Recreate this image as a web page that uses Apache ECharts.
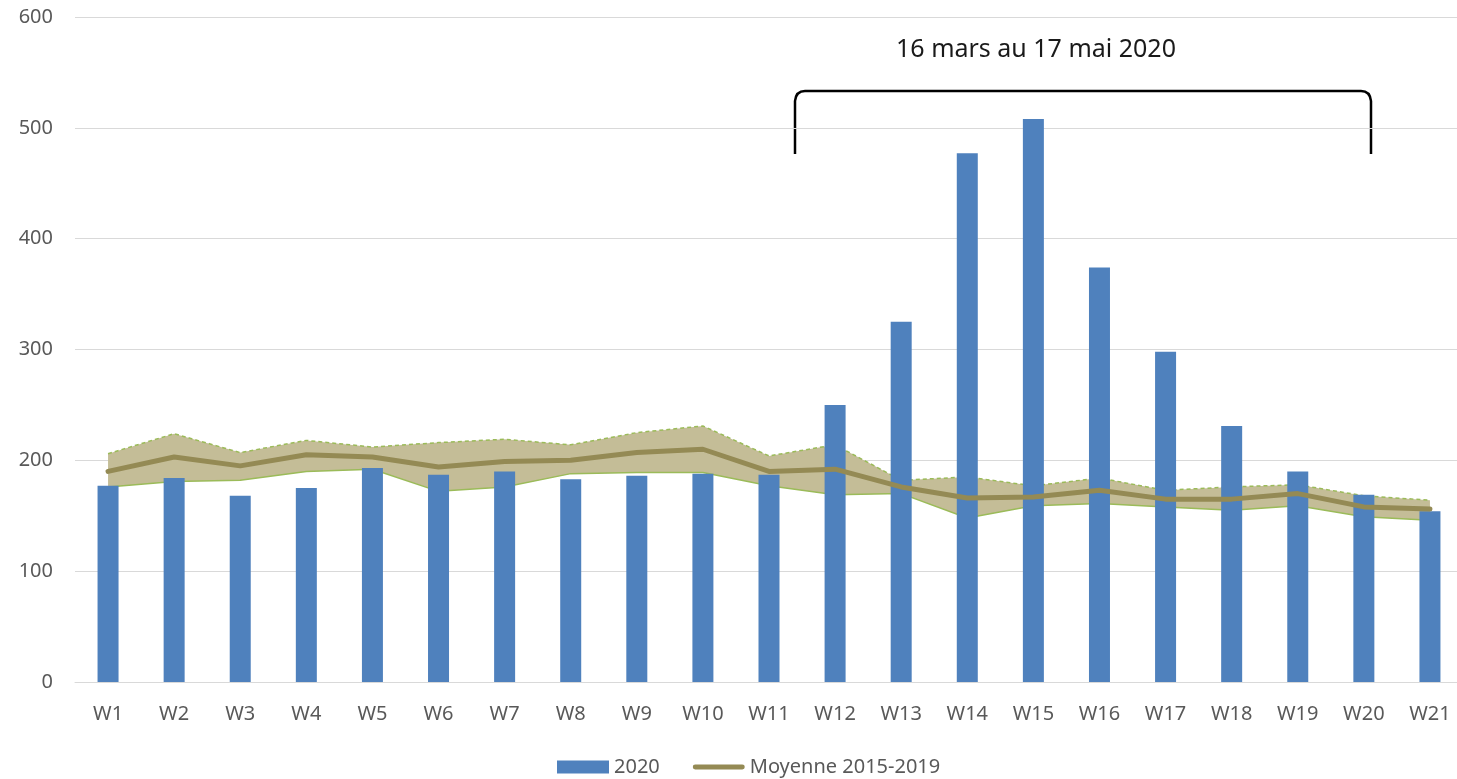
<!DOCTYPE html>
<html>
<head>
<meta charset="utf-8">
<script src="https://cdn.jsdelivr.net/npm/echarts@6/dist/echarts.min.js"></script>
<style>
  html, body { margin: 0; padding: 0; background: #fff; overflow: hidden; }
  /* plot area runs a few pixels past the right edge of the picture */
  #chart { width: 1463px; height: 779px; }
</style>
</head>
<body>
<div id="chart"></div>
<script>
// weekly counts
const weeks = ["W1","W2","W3","W4","W5","W6","W7","W8","W9","W10","W11","W12","W13","W14","W15","W16","W17","W18","W19","W20","W21"];
const cases2020 = [177,184,168,175,193,187,190,183,186,188,187,250,325,477,508,374,298,231,190,169,154];
const mean1519 = [190,203,195,205,203,194,199,200,207,210,190,192,176,166,167,173,165,165,170,158,156];
const upper1519 = [206,224,207,218,212,216,219,214,225,231,204,214,182,185,177,184,173,176,178,168,164];
const lower1519 = [176,181,182,190,192,172,176,188,189,189,177,169,170,148,159,161,158,155,159,149,146];
const yTicks = [0, 100, 200, 300, 400, 500, 600];

const periodLabel = "16 mars au 17 mai 2020";

const FONT = "Noto Sans";
const bandWidth = upper1519.map((v, i) => v - lower1519[i]);

const chart = echarts.init(document.getElementById("chart"));

// bracket over the lockdown weeks (annotation, pixel positions)
const bx1 = 795, bx2 = 1371, byTop = 91, byBottom = 154, r = 10;
const bracketStyle = { stroke: "#000", lineWidth: 2.5, fill: null };
const bracket = [
  { type: "line", shape: { x1: bx1, y1: byBottom, x2: bx1, y2: byTop + r }, style: bracketStyle },
  { type: "bezierCurve", shape: { x1: bx1, y1: byTop + r, cpx1: bx1 + 1, cpy1: byTop, x2: bx1 + r, y2: byTop }, style: bracketStyle },
  { type: "line", shape: { x1: bx1 + r, y1: byTop, x2: bx2 - r, y2: byTop }, style: bracketStyle },
  { type: "bezierCurve", shape: { x1: bx2 - r, y1: byTop, cpx1: bx2 - 1, cpy1: byTop, x2: bx2, y2: byTop + r }, style: bracketStyle },
  { type: "line", shape: { x1: bx2, y1: byTop + r, x2: bx2, y2: byBottom }, style: bracketStyle }
];

const option = {
  animation: false,
  textStyle: { fontFamily: FONT },
  grid: { left: 75, right: 0, top: 17, bottom: 97 },
  legend: {
    left: 552,
    top: 752,
    itemWidth: 52,
    itemHeight: 13,
    itemGap: 33,
    textStyle: { fontSize: 20, color: "#595959", fontFamily: FONT },
    data: [
      { name: "2020", icon: "rect" },
      { name: "Moyenne 2015-2019", icon: "path://M2,0 H50 A2.5,2.5 0 0 1 50,5 H2 A2.5,2.5 0 0 1 2,0 Z" }
    ]
  },
  xAxis: {
    type: "category",
    data: weeks,
    axisLine: { lineStyle: { color: "#D9D9D9", width: 1 } },
    axisTick: { show: false },
    axisLabel: { fontSize: 20, color: "#595959", margin: 22 }
  },
  yAxis: {
    type: "value",
    min: yTicks[0],
    max: yTicks[yTicks.length - 1],
    interval: 100,
    axisLine: { show: false },
    axisTick: { show: false },
    axisLabel: { fontSize: 20, color: "#595959", margin: 22 },
    splitLine: { lineStyle: { color: "#D9D9D9", width: 1 } }
  },
  series: [
    {
      name: "min",
      type: "line",
      stack: "band",
      data: lower1519,
      symbol: "none",
      z: 1,
      lineStyle: { color: "#9BBB59", width: 1.5 }
    },
    {
      name: "max",
      type: "line",
      stack: "band",
      data: bandWidth,
      symbol: "none",
      z: 1,
      lineStyle: { color: "#9BBB59", width: 1.5, type: [4, 3] },
      areaStyle: { color: "#C4BD97", opacity: 1 }
    },
    {
      name: "2020",
      type: "bar",
      data: cases2020,
      barWidth: 21,
      z: 2,
      itemStyle: { color: "#4F81BD" }
    },
    {
      name: "Moyenne 2015-2019",
      type: "line",
      data: mean1519,
      symbol: "none",
      z: 3,
      lineStyle: { color: "#948A54", width: 5, cap: "round" },
      itemStyle: { color: "#948A54" }
    }
  ],
  graphic: bracket.concat([
    {
      type: "text",
      x: 1036,
      y: 50,
      style: {
        text: periodLabel,
        fontFamily: FONT,
        fontSize: 25,
        fill: "#1a1a1a",
        align: "center",
        verticalAlign: "middle"
      }
    }
  ])
};

chart.setOption(option);
</script>
</body>
</html>
